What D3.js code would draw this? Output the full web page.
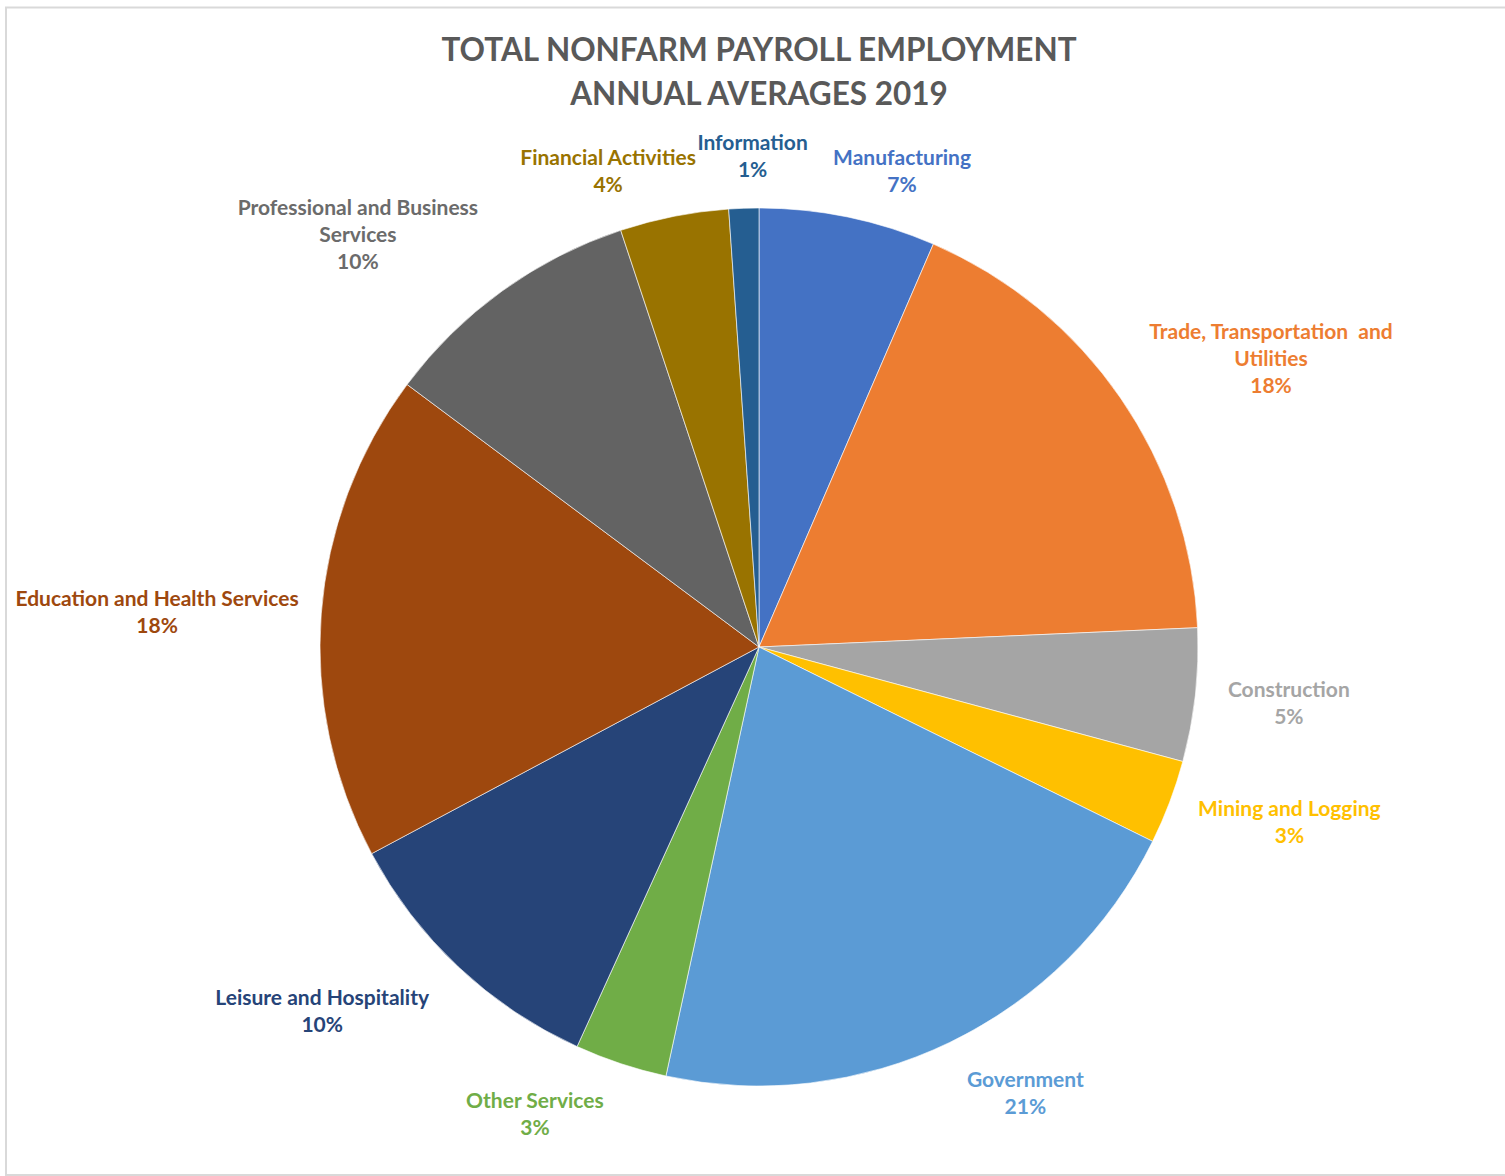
<!DOCTYPE html>
<html>
<head>
<meta charset="utf-8">
<script src="https://cdn.jsdelivr.net/npm/d3@7/dist/d3.min.js"></script>
<style>
  html, body { margin: 0; padding: 0; background: #ffffff; }
  svg { display: block; }
  text { font-family: Lato, "Open Sans", sans-serif; font-weight: 700; }
</style>
</head>
<body>
<svg id="chart" width="1505" height="1176"></svg>
<script>
// Nonfarm payroll employment shares by supersector, 2019 annual averages (percent)
const sectors = [
  "Manufacturing",
  "Trade, Transportation and Utilities",
  "Construction",
  "Mining and Logging",
  "Government",
  "Other Services",
  "Leisure and Hospitality",
  "Education and Health Services",
  "Professional and Business Services",
  "Financial Activities",
  "Information"
];
const shares = [6.5, 17.8, 4.9, 3.1, 21.1, 3.4, 10.4, 18.0, 9.7, 4.0, 1.1];

// Line breaks used for each slice label
const labelLines = [
  ["Manufacturing"],
  ["Trade, Transportation  and", "Utilities"],
  ["Construction"],
  ["Mining and Logging"],
  ["Government"],
  ["Other Services"],
  ["Leisure and Hospitality"],
  ["Education and Health Services"],
  ["Professional and Business", "Services"],
  ["Financial Activities"],
  ["Information"]
];

const sliceColors = ["#4472C4", "#ED7D31", "#A5A5A5", "#FFC000", "#5B9BD5", "#70AD47",
                     "#264478", "#9E480E", "#636363", "#997300", "#255E91"];
const labelColors = ["#4472C4", "#ED7D31", "#A5A5A5", "#FFC000", "#5B9BD5", "#70AD47",
                     "#264478", "#9E480E", "#6B6B6B", "#997300", "#255E91"];

const titleLines = ["TOTAL NONFARM PAYROLL EMPLOYMENT", "ANNUAL AVERAGES 2019"];

// Fine adjustments to the best-fit label placement [dx, dy]
const labelNudge = [[38, -11], [42, -12], [23, 3], [25, 6], [46, 16], [-61, 14],
                    [-56, 16], [-13, 0], [-68, -17], [-47, -10], [11, -16]];

const W = 1505, H = 1176;
const cx = 759, cy = 647, radius = 439;
const lineH = 27;

const svg = d3.select("#chart");

// chart area frame
svg.append("rect")
  .attr("x", 6).attr("y", 7.5)
  .attr("width", W + 10).attr("height", H - 8.5)
  .attr("fill", "#ffffff")
  .attr("stroke", "#d9d9d9")
  .attr("stroke-width", 2);

// title
svg.append("g")
  .selectAll("text")
  .data(titleLines)
  .join("text")
  .attr("x", cx)
  .attr("y", (d, i) => 49 + i * 44)
  .attr("text-anchor", "middle")
  .attr("dominant-baseline", "central")
  .attr("font-size", 31.5)
  .attr("fill", "#595959")
  .text(d => d);

const data = sectors.map((s, i) => ({ name: s, value: shares[i], idx: i }));
const total = d3.sum(shares);

const pie = d3.pie().value(d => d.value).sort(null);
const arcs = pie(data);
const arc = d3.arc().innerRadius(0).outerRadius(radius);

const g = svg.append("g").attr("transform", `translate(${cx},${cy})`);

g.selectAll("path")
  .data(arcs)
  .join("path")
  .attr("d", arc)
  .attr("fill", d => sliceColors[d.data.idx])
  .attr("stroke", "#ffffff")
  .attr("stroke-width", 0.6)
  .attr("stroke-linejoin", "round");

// labels: category name plus rounded share, placed just outside each slice
const labels = g.selectAll("g.label")
  .data(arcs)
  .join("g")
  .attr("class", "label");

labels.each(function (d) {
  const i = d.data.idx;
  const lines = labelLines[i].concat([Math.round(d.data.value / total * 100) + "%"]);
  const t = d3.select(this).append("text")
    .attr("text-anchor", "middle")
    .attr("font-size", 21)
    .attr("fill", labelColors[i]);
  const n = lines.length;
  lines.forEach((ln, k) => {
    t.append("tspan")
      .attr("x", 0)
      .attr("y", (k - (n - 1) / 2) * lineH)
      .attr("dominant-baseline", "central")
      .attr("xml:space", "preserve")
      .text(ln);
  });
  const bb = t.node().getBBox();
  const a = (d.startAngle + d.endAngle) / 2;
  const R = radius + 10;
  const px = R * Math.sin(a), py = -R * Math.cos(a);
  const w = bb.width, h = n * lineH;
  const lx = px + Math.sin(a) * w / 2 + labelNudge[i][0];
  const ly = py - Math.cos(a) * h / 2 + labelNudge[i][1];
  d3.select(this).attr("transform", `translate(${lx},${ly})`);
});
</script>
</body>
</html>
